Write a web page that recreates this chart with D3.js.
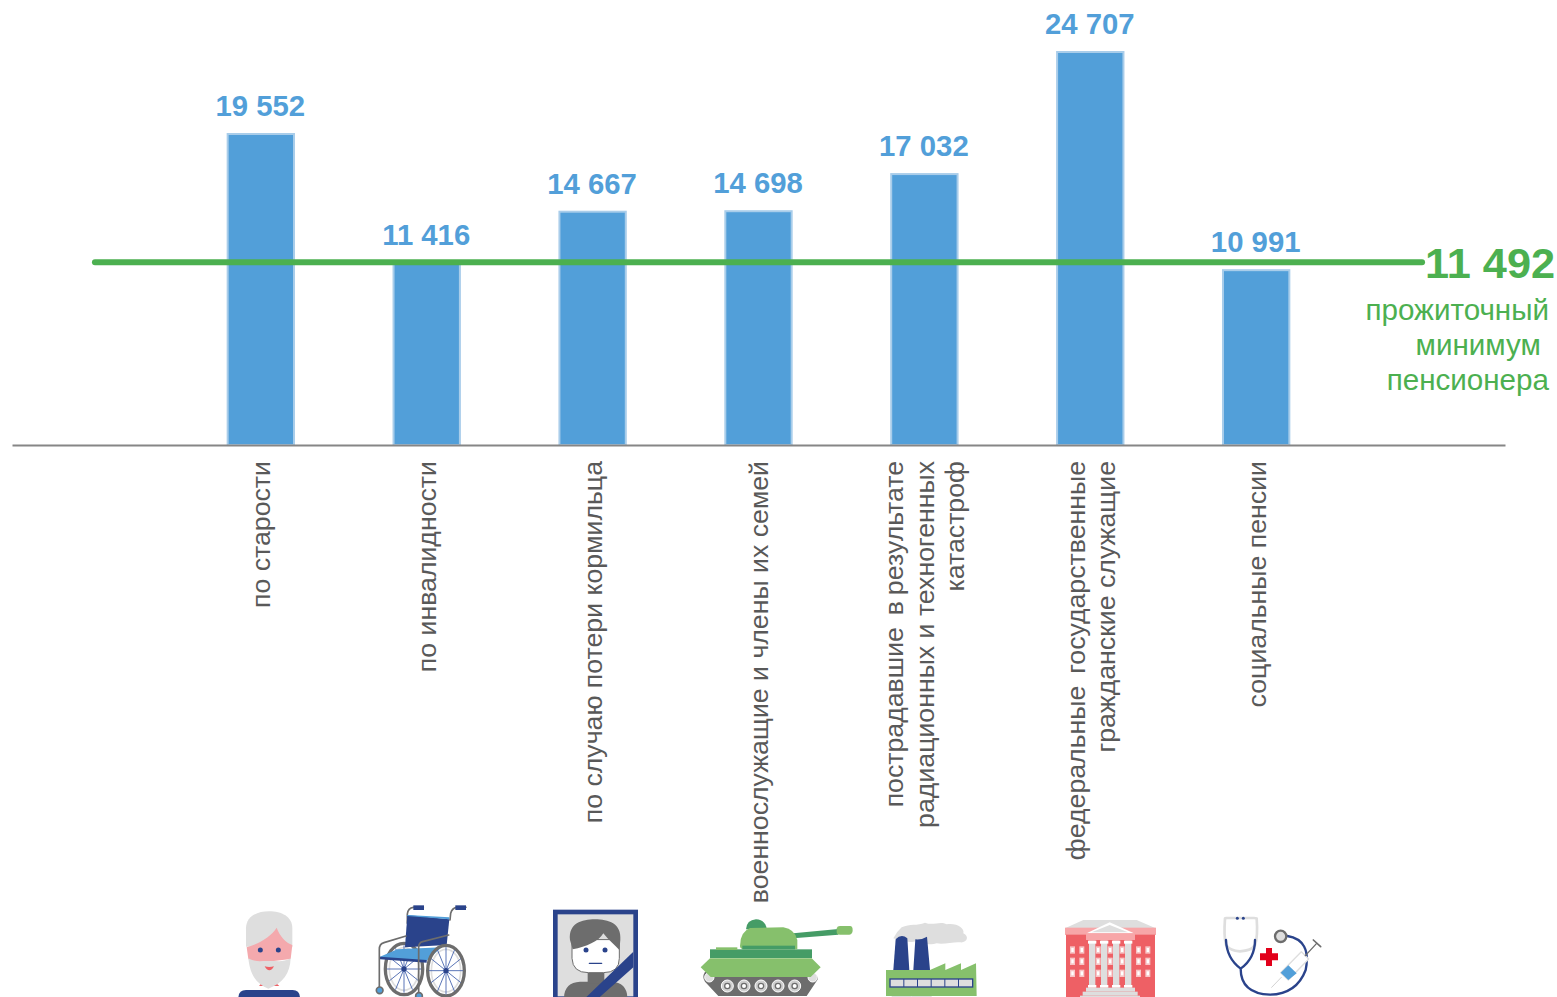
<!DOCTYPE html>
<html lang="ru"><head><meta charset="utf-8">
<style>html,body{margin:0;padding:0;background:#fff;overflow:hidden}svg{display:block}text{font-family:"Liberation Sans",Arial,sans-serif}</style>
<script src="https://d3js.org/d3.v7.min.js"></script></head><body>
<svg id="c" width="1557" height="997"></svg>
<script>
const categories = ["", "по старости", "по инвалидности", "по случаю потери кормильца", "военнослужащие и члены их семей",
  "пострадавшие  в результате\nрадиационных и техногенных\nкатастроф", "федеральные  государственные\nгражданские служащие", "социальные пенсии", " "];
const pensionValues = [null, 19552, 11416, 14667, 14698, 17032, 24707, 10991, null];
const minimumValues = [11492, 11492, 11492, 11492, 11492, 11492, 11492, 11492, 11492];
const minimumLabel = ["прожиточный", "минимум\u00a0", "пенсионера"];

const BLUE="#529fd9", EDGE="#a9cdea", GREEN="#4cb050", GREY="#595959", NAVY="#2a438b", LG="#dedede", DG="#6d6d6d", PINK="#f4a9ad", RED="#ee6065", LGREEN="#86c06c", DGREEN="#459c66";
const svg=d3.select("#c");
const x=d3.scaleBand().domain(categories).range([12,1505]).paddingInner(0.6).paddingOuter(0.3);
const y=d3.scaleLinear().domain([0,24707]).range([445,52]);
const fmt=d3.formatLocale({decimal:",",thousands:" ",grouping:[3],currency:["",""]}).format(",");
const cx=c=>x(c)+x.bandwidth()/2;

// bars
svg.append("g").selectAll("rect").data(categories.map((c,i)=>({c,v:pensionValues[i]})).filter(d=>d.v!==null)).join("rect")
  .attr("x",d=>x(d.c)).attr("width",x.bandwidth()).attr("y",d=>y(d.v)).attr("height",d=>y(0)-y(d.v))
  .attr("fill",BLUE).attr("stroke",EDGE).attr("stroke-width",2);

// axis
const ax=svg.append("g").attr("transform","translate(0,445)").call(d3.axisBottom(x).tickSize(0).tickFormat(""));
ax.select(".domain").attr("stroke","#868686").attr("stroke-width",2);

// category labels
const lab=svg.append("g").selectAll("g").data(categories.filter(c=>c.trim())).join("g")
 .attr("transform",d=>`translate(${cx(d)},461) rotate(-90)`);
lab.each(function(d){
  const ls=d.split("\n"), n=ls.length, g=d3.select(this);
  ls.forEach((l,i)=>g.append("text").text(l).style("white-space","pre").style("word-spacing",l.includes("  ")?"-1.5px":null)
    .attr("text-anchor","end").attr("y",(i-(n-1)/2)*30.5+9.5).attr("font-size",26.7).attr("fill",GREY));
});

// value labels
svg.append("g").selectAll("text").data(categories.map((c,i)=>({c,v:pensionValues[i]})).filter(d=>d.v!==null)).join("text")
  .attr("x",d=>cx(d.c)-0.5).attr("y",d=>y(d.v)-18).attr("text-anchor","middle")
  .attr("font-size",29.3).attr("font-weight","bold").attr("fill",BLUE).text(d=>fmt(d.v));

// minimum line
const line=d3.line().x((d,i)=>cx(categories[i])).y(d=>y(d));
svg.append("path").datum(minimumValues).attr("d",line).attr("fill","none").attr("stroke",GREEN).attr("stroke-width",6).attr("stroke-linecap","round");
svg.append("text").attr("x",1425).attr("y",277.5).attr("font-size",43.3).attr("font-weight","bold").attr("fill",GREEN).text(fmt(minimumValues[8]));
svg.append("g").selectAll("text").data(minimumLabel).join("text").attr("x",1549).attr("y",(d,i)=>319.5+i*35)
  .attr("text-anchor","end").attr("font-size",29.6).attr("fill",GREEN).text(d=>d);

// decorative icons, drawn in a 3x local grid
function icon(originX,draw){const g=svg.append("g").attr("transform",`translate(${originX},890) scale(${1/3})`);draw(g);}
const P=(g,d,f,s,w)=>g.append("path").attr("d",d).attr("fill",f||"none").attr("stroke",s||"none").attr("stroke-width",w||0).attr("stroke-linejoin","round").attr("stroke-linecap","round");
const C=(g,a,b,r,f,s,w)=>g.append("circle").attr("cx",a).attr("cy",b).attr("r",r).attr("fill",f).attr("stroke",s||"none").attr("stroke-width",w||0);
const E=(g,a,b,rx,ry,f,s,w)=>g.append("ellipse").attr("cx",a).attr("cy",b).attr("rx",rx).attr("ry",ry).attr("fill",f).attr("stroke",s||"none").attr("stroke-width",w||0);
const R=(g,a,b,ww,h,f,s,w)=>g.append("rect").attr("x",a).attr("y",b).attr("width",ww).attr("height",h).attr("fill",f).attr("stroke",s||"none").attr("stroke-width",w||0);

icon(200,g=>{
  // old man
  P(g,"M115,325 Q115,300 138,300 L278,300 Q300,300 300,325Z",NAVY);
  P(g,"M177,288 L190,274 L205,292 L222,274 L238,288Z",RED);
  P(g,"M138,170 L138,115 C138,80 170,64 207,64 C245,64 277,80 277,115 L277,172 Z",LG);
  P(g,"M140,172 C180,160 212,140 230,113 C240,140 258,158 277,165 L272,207 L165,220 L145,207Z",PINK);
  P(g,"M145,205 C170,220 195,210 208,214 C225,210 245,220 272,205 C270,250 250,280 205,296 C165,280 150,250 145,205Z",LG);
  P(g,"M194,229 Q208,233 222,229 Q216,241 208,241 Q200,241 194,229Z",RED);
  C(g,181,180,7.5,NAVY);C(g,235,180,7.5,NAVY);
  // wheelchair
  P(g,"M622,100 L622,72 Q624,54 640,52 L670,52 M750,90 L752,70 Q756,54 770,52 L798,52",null,DG,5);
  R(g,640,46,32,14,NAVY);R(g,766,46,32,14,NAVY);
  E(g,612,237,56,77,"#fff",DG,10);E(g,612,237,44,64,"none",LG,5);
  [0,30,60,90,120,150].forEach(a=>{const t=a*Math.PI/180,c=Math.cos(t),s=Math.sin(t);P(g,`M${612-50*c},${237-70*s} L${612+50*c},${237+70*s}`,null,"#3a5aa8",2.5);});
  C(g,612,237,8,NAVY);
  P(g,"M622,75 L748,88 L740,165 L615,172Z",NAVY);
  P(g,"M622,75 L748,82 L748,88 L622,78Z",BLUE);
  P(g,"M540,200 L592,178 L725,172 L680,212 L540,205Z",BLUE);
  P(g,"M540,200 L540,208 L680,218 L680,210Z",NAVY);
  P(g,"M618,138 L552,158 Q538,162 538,178 L538,295 M746,135 L668,155 Q656,158 656,172 L656,312",null,DG,5);
  E(g,738,242,55,76,"none",DG,10);E(g,738,242,44,64,"none",LG,5);
  [0,30,60,90,120,150].forEach(a=>{const t=a*Math.PI/180,c=Math.cos(t),s=Math.sin(t);P(g,`M${738-50*c},${242-70*s} L${738+50*c},${242+70*s}`,null,"#3a5aa8",2.5);});
  C(g,738,242,8,NAVY);
  C(g,539,301,10,BLUE,DG,5);C(g,657,318,10,BLUE,DG,5);
  // portrait
  R(g,1066,66,241,260,LG,NAVY,14);
  P(g,"M1092,325 Q1092,278 1140,275 L1235,275 Q1282,278 1282,325Z",DG);
  R(g,1163,240,50,40,DG);
  P(g,"M1116,150 L1116,205 Q1118,248 1165,248 L1210,248 Q1258,248 1258,205 L1258,150Z","#fff",DG,3);
  P(g,"M1110,150 C1105,100 1145,88 1185,88 C1225,88 1265,100 1261,150 L1258,180 C1245,165 1225,150 1210,130 C1195,155 1160,170 1118,178Z",DG);
  C(g,1158,180,7.5,NAVY);C(g,1215,180,7.5,NAVY);
  P(g,"M1168,220 L1205,220",null,NAVY,4);
  P(g,"M1300,185 L1300,232 L1195,325 L1155,325Z",NAVY);
});

icon(680,g=>{
  // tank
  P(g,"M110,250 L400,250 Q420,262 412,270 L380,318 L115,318 L75,275 Q65,262 75,245Z",DG);
  C(g,88,262,14,LG,"#fff",3);C(g,398,262,14,LG,"#fff",3);
  [142,192,243,294,344].forEach(a=>{C(g,a,288,18,"#cfcfcf","#fff",3);C(g,a,288,8,"#fff",DG,4);});
  P(g,"M90,205 L395,205 L422,232 L392,261 L92,261 L62,232Z",LGREEN);
  R(g,90,178,306,26,DGREEN);
  R(g,108,172,64,8,LGREEN);
  P(g,"M340,130 L475,117 L475,134 L340,145Z",DGREEN);
  P(g,"M470,115 Q472,108 480,108 L510,108 Q518,108 518,120 Q518,133 508,134 L480,134 Q470,134 470,126Z",LGREEN);
  P(g,"M198,118 Q200,90 228,88 Q258,90 260,118Z",DGREEN);
  P(g,"M180,168 Q180,125 210,114 L310,112 Q345,118 352,150 L352,178 L195,178 Q180,178 180,168Z",LGREEN);
  R(g,187,167,158,11,DGREEN);
  // factory
  P(g,"M640,145 Q650,125 665,112 C690,100 712,108 735,98 C760,108 780,92 800,103 C830,98 855,115 850,130 C870,140 860,160 840,157 C820,155 790,165 770,160 C740,170 725,150 700,155 C680,158 660,150 640,145Z",LG);
  P(g,"M640,240 L647,148 Q664,130 682,145 L688,240Z",NAVY);
  P(g,"M700,240 L706,148 Q725,150 741,140 L750,240Z",NAVY);
  P(g,"M618,240 L750,240 L796,220 L796,240 L843,220 L843,240 L888,220 L890,318 L618,318Z",LGREEN);
  R(g,630,267,248,24,LG,NAVY,4);
  [671,712,753,794,835].forEach(a=>R(g,a-1,267,3,24,NAVY));
  R(g,635,318,60,3,LG);R(g,695,318,60,3,LG);
});

icon(1040,g=>{
  // building
  P(g,"M75,115 L130,90 L290,90 L347,115Z",LG);
  R(g,75,113,273,22,"#f7a6a8");
  R(g,78,134,267,187,RED);
  P(g,"M140,130 L209,97 L282,130Z","#fff",RED,0);
  P(g,"M155,127 L209,105 L264,127Z",LG);
  R(g,138,130,147,20,"#f7a6a8");
  [147,183,219,255].forEach(a=>{R(g,a,152,19,140,LG);R(g,a-3,152,25,9,"#fff");R(g,a-3,285,25,8,"#fff");});
  [[90],[118],[167],[203],[239],[288],[316]].forEach(([a])=>[180,214,250].forEach(b=>{R(g,a,b-11,15,22,"#f7c5c6");R(g,a+4,b-6,7,12,"#fff");}));
  R(g,138,293,147,12,LG);R(g,128,305,165,12,LG);R(g,120,317,180,6,LG);
  // stethoscope
  P(g,"M555,85 Q551,140 558,165 Q570,182 600,184 Q635,182 645,165 Q654,140 650,85 Q648,84 642,84 L560,84Z","none",LG,8);
  C(g,592,85,4.5,NAVY);C(g,610,85,4.5,NAVY);
  P(g,"M558,150 Q560,205 602,236 Q645,205 645,150 M602,236 Q602,310 690,314 Q770,312 797,240 Q815,150 742,138",null,NAVY,7);
  C(g,722,139,17,LG,DG,7);
  P(g,"M678,174 L696,174 L696,190 L714,190 L714,211 L696,211 L696,228 L678,228 L678,211 L660,211 L660,190 L678,190Z","#e2001a");
  P(g,"M695,292 L724,262",null,"#bbb",2);
  P(g,"M722,248 L784,185 L806,207 L745,270Z","#fff",LG,4);
  P(g,"M722,248 L745,226 L770,250 L745,270Z",BLUE);
  P(g,"M796,197 L830,160",null,DG,4);P(g,"M820,150 L842,170",null,DG,5);
});
</script></body></html>
